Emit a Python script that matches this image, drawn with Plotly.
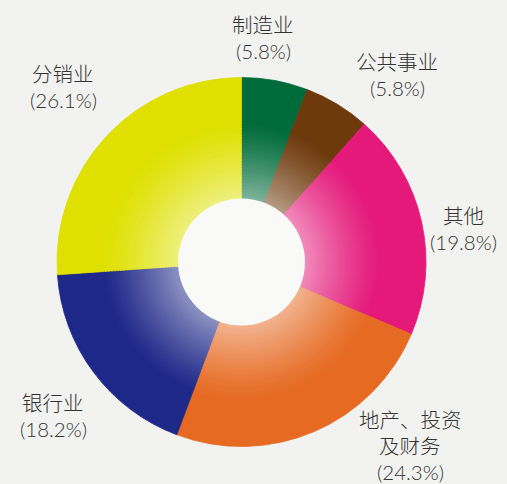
import plotly.graph_objects as go

# ---- data ----
categories = ["制造业", "公共事业", "其他", "地产、投资及财务", "银行业", "分销业"]
label_lines = [["制造业"], ["公共事业"], ["其他"], ["地产、投资", "及财务"], ["银行业"], ["分销业"]]
shares = [5.8, 5.8, 19.8, 24.3, 18.2, 26.1]
colors = ["#006b3a", "#6e3a0c", "#e4197a", "#e66a22", "#1e2888", "#dfe000"]

W, H = 507, 484
CX, CY = 241.5, 262.0      # pie centre in px
R_OUT = 184.5              # outer radius px
R_HOLE = 63.5              # hole radius px
LINE = 26                  # label line spacing px


def hex2rgb(h):
    h = h.lstrip("#")
    return tuple(int(h[i:i + 2], 16) for i in (0, 2, 4))


def mix(c, w):
    r, g, b = hex2rgb(c)
    return "rgb(%d,%d,%d)" % (round(r + (255 - r) * w), round(g + (255 - g) * w), round(b + (255 - b) * w))


def domain_for(r):
    return dict(x=[(CX - r) / W, (CX + r) / W],
                y=[(H - CY - r) / H, (H - CY + r) / H])


fig = go.Figure()

# radial gradient imitation: stacked pies, largest first
N = 26
r_full = 0.76 * R_OUT
radii = [R_OUT] + [r_full - (r_full - R_HOLE) * k / (N - 1) for k in range(N)]
for r in radii:
    t = max(0.0, min(1.0, (r_full - r) / (r_full - R_HOLE)))
    w = 0.5 * t ** 1.2
    cols = [mix(c, w) for c in colors]
    fig.add_trace(go.Pie(
        labels=categories, values=shares, sort=False, direction="clockwise",
        rotation=0, domain=domain_for(r), hole=0,
        marker=dict(colors=cols, line=dict(color=cols, width=0.8)),
        textinfo="none", hoverinfo="label+percent", showlegend=False,
    ))

# centre hole
fig.add_trace(go.Pie(
    labels=[""], values=[1], sort=False, domain=domain_for(R_HOLE),
    marker=dict(colors=["#f9f9f8"], line=dict(width=0)),
    textinfo="none", hoverinfo="skip", showlegend=False,
))

# labels: top line centre positions (px)
label_top = [(263, 25), (397, 62), (463, 216), (410, 420), (53, 403), (63, 74)]
for lines, v, (x, y) in zip(label_lines, shares, label_top):
    all_lines = lines + [f"({v}%)"]
    for i, ln in enumerate(all_lines):
        fig.add_annotation(
            x=x / W, y=1 - (y + i * LINE) / H, xref="paper", yref="paper",
            text=ln, showarrow=False,
            xanchor="center", yanchor="middle", align="center",
            font=dict(family="Lato, Noto Sans CJK SC, sans-serif", size=20.5,
                      color="#333333", weight=300),
        )

fig.update_layout(
    width=W, height=H,
    margin=dict(l=0, r=0, t=0, b=0),
    paper_bgcolor="#f2f2f0", plot_bgcolor="#f2f2f0",
)

fig.write_html("out.html", config={"displayModeBar": False},
               post_script="document.body.style.margin='0';document.body.style.overflow='hidden';")
